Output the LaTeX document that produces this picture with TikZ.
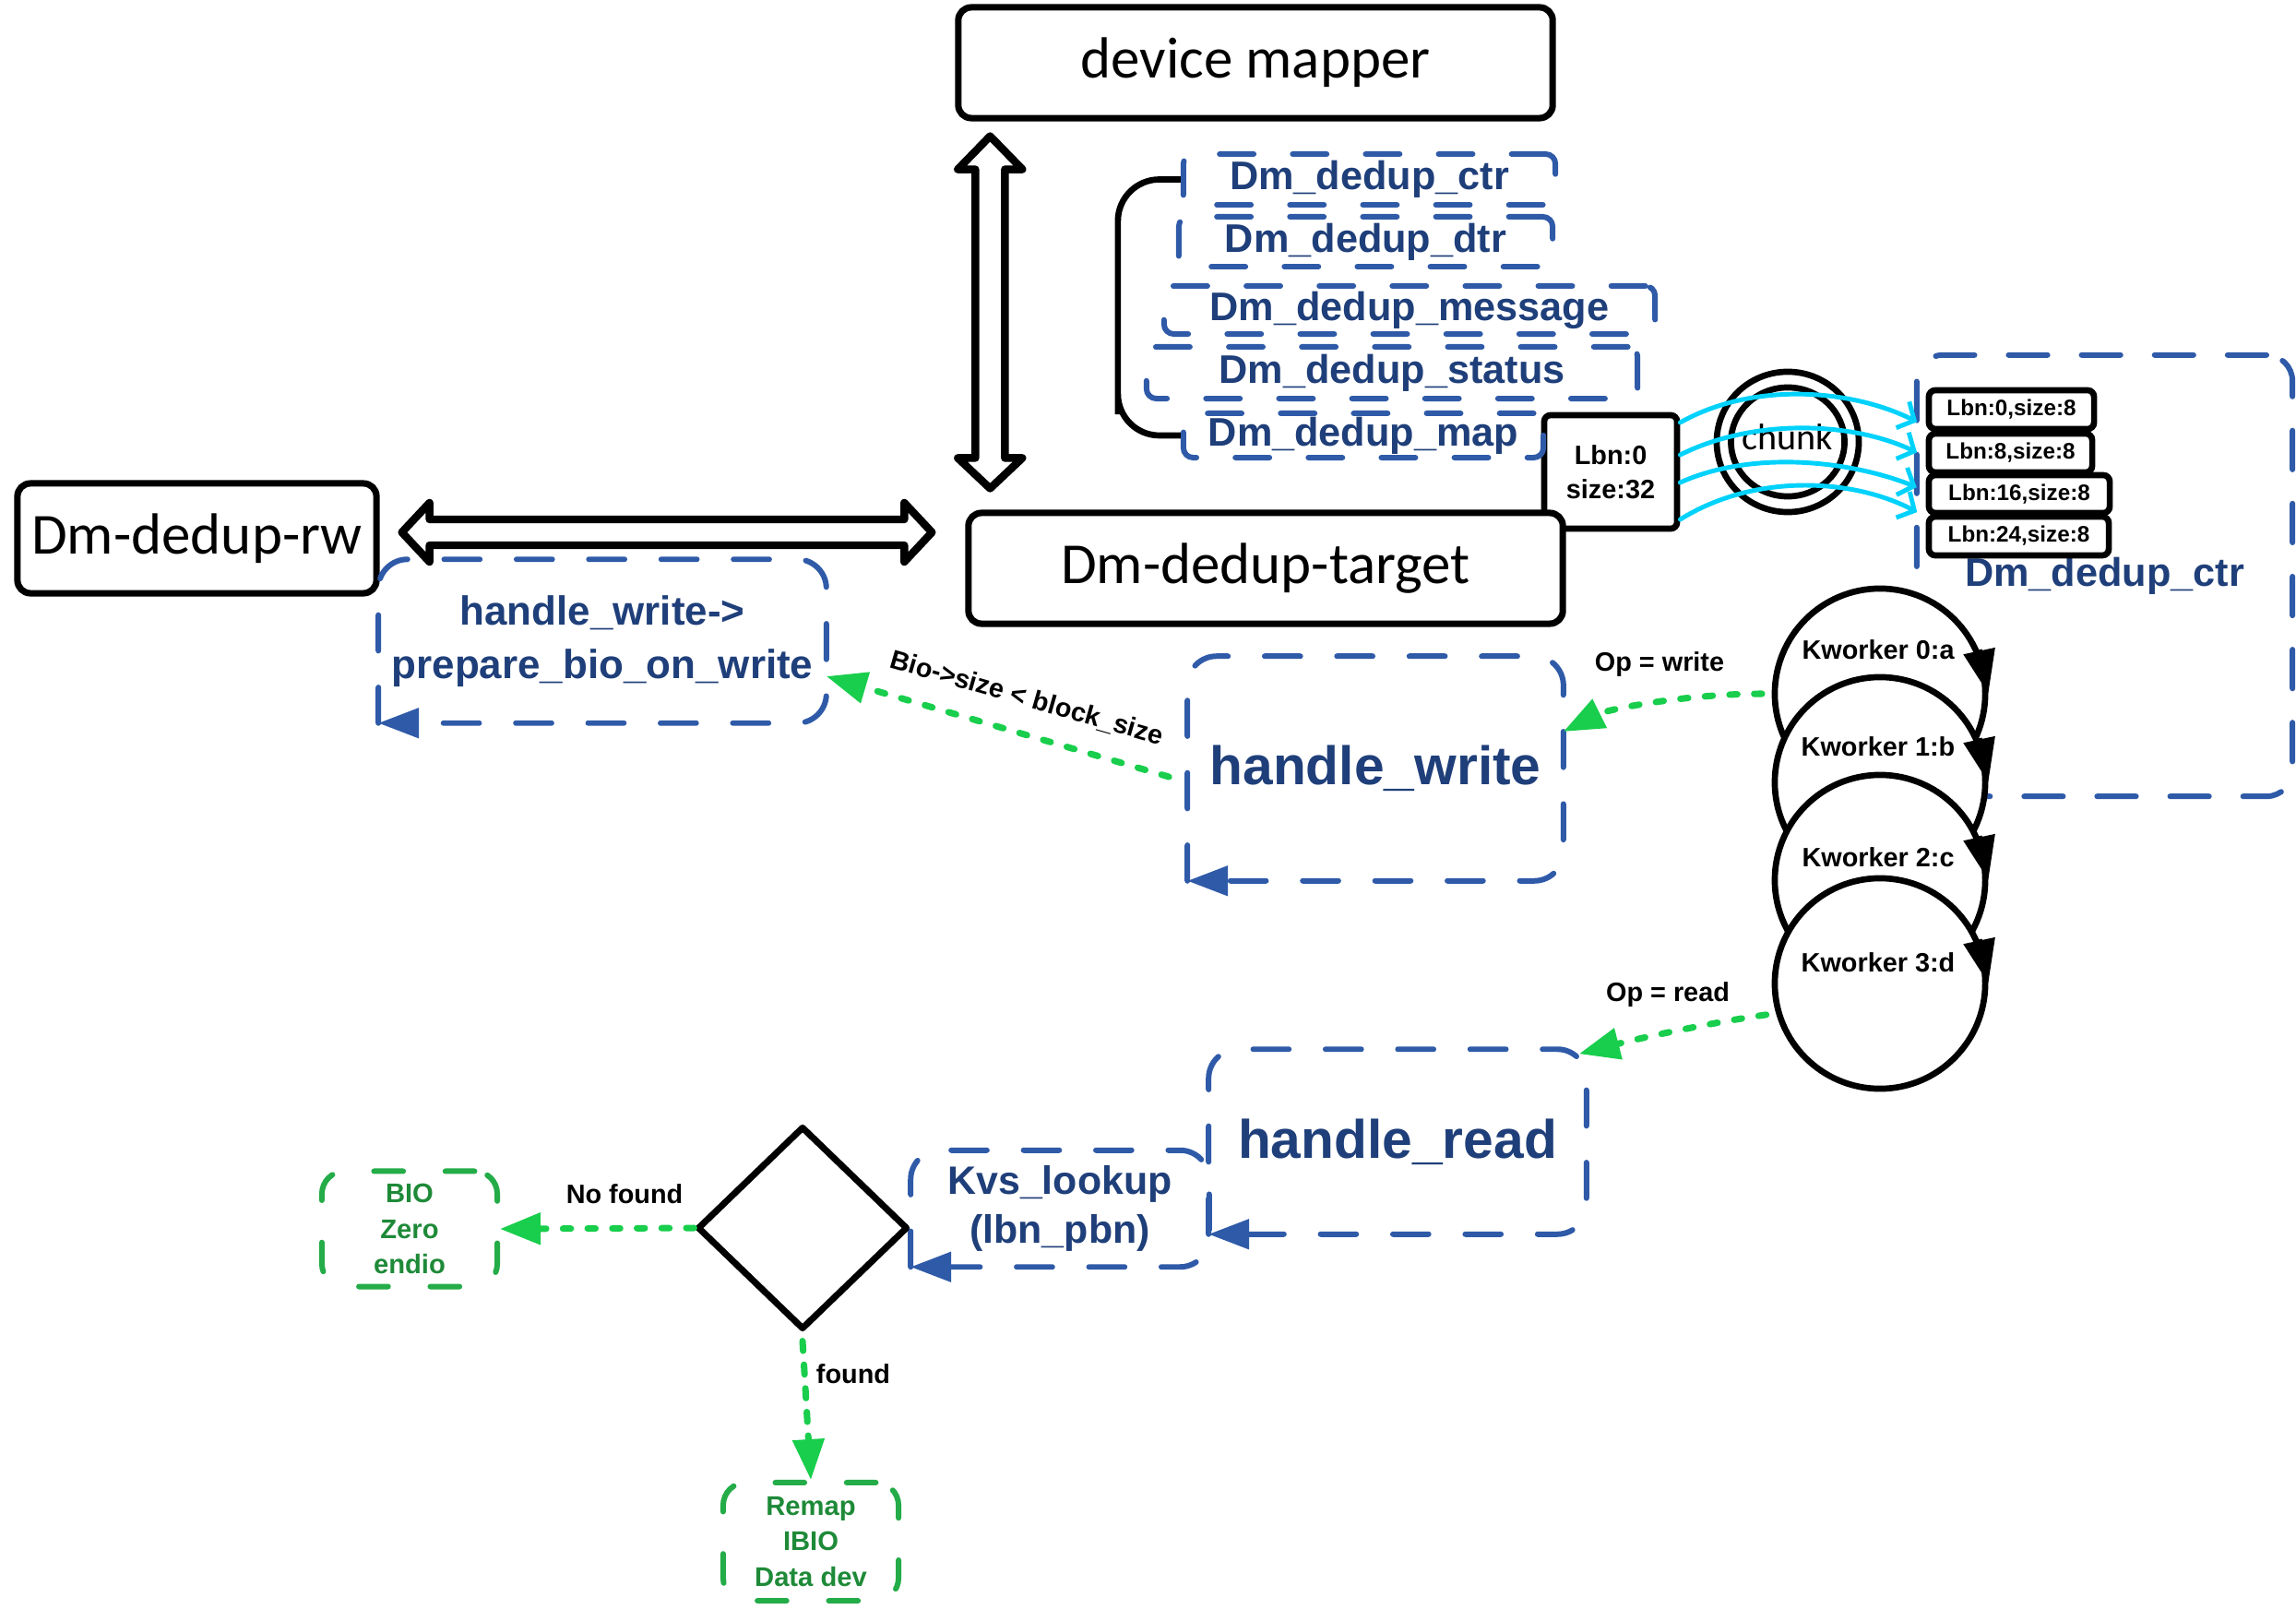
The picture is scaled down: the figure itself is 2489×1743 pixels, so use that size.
\documentclass[tikz,border=0pt]{standalone}
\usepackage{fontspec}
\setmainfont{Liberation Sans}
\newfontfamily\calfont{Carlito}
\usetikzlibrary{arrows.meta,shapes.geometric,calc}
\definecolor{blueline}{RGB}{47,90,168}
\definecolor{bluetext}{RGB}{31,63,122}
\definecolor{greenarrow}{RGB}{24,206,76}
\definecolor{greenbox}{RGB}{36,172,72}
\definecolor{greentext}{RGB}{30,138,56}
\definecolor{cyanline}{RGB}{0,210,252}
\tikzset{
  blackbox/.style={draw=black, line width=2pt, rounded corners=4pt, fill=white, inner sep=0pt, line join=round, font=\calfont\fontsize{17.9pt}{21pt}\selectfont},
  funcbox/.style={draw=blueline, line width=1.7pt, dash pattern=on 10.5pt off 12pt, line cap=round, rounded corners=3pt, inner sep=0pt, text=bluetext, font=\bfseries\fontsize{12.3pt}{14pt}\selectfont},
  flowtext/.style={inner sep=0pt, text=bluetext, align=center},
  flowline/.style={draw=blueline, color=blueline, line width=1.7pt, dash pattern=on 11pt off 11.3pt, line cap=round, rounded corners=9pt, -{Triangle[length=12.5pt,width=9pt]}},
  greenframe/.style={draw=greenbox, line width=1.7pt, dash pattern=on 9pt off 13pt, line cap=round, rounded corners=7pt, inner sep=0pt, align=center, text=greentext, font=\bfseries\fontsize{8.3pt}{10.9pt}\selectfont},
  greendot/.style={draw=greenarrow, color=greenarrow, line width=2pt, line cap=round, dash pattern=on 2.4pt off 5.2pt, -{Triangle[length=12.5pt,width=9.5pt]}},
  greendash/.style={greendot, dash pattern=on 3pt off 4.3pt},
  lbl/.style={inner sep=0pt, font=\bfseries\fontsize{8.2pt}{10pt}\selectfont},
  smallbox/.style={draw=black, fill=white, line width=1.9pt, rounded corners=2pt, inner sep=0pt, font=\bfseries\fontsize{6.9pt}{8pt}\selectfont},
  kcircle/.style={circle, draw=black, line width=1.9pt, fill=white, minimum size=2.28cm, inner sep=0pt},
  ktip/.style={line width=1.9pt, -{Triangle[length=13.5pt,width=9.5pt]}},
  cyanarrow/.style={draw=cyanline, line width=1.4pt, line cap=round, -{Straight Barb[length=4pt,width=9pt]}},
  dblarrow/.style={draw=black, line width=2.4pt, line join=round, fill=white},
}
\begin{document}
\begin{tikzpicture}[x=0.01cm,y=-0.01cm]
\useasboundingbox (0,0) rectangle (2489,1743);
\fill[white] (0,0) rectangle (2489,1743);

% group rectangle on the right
\node[funcbox, dash pattern=on 12pt off 10.5pt, rounded corners=8pt, minimum width=4.07cm, minimum height=4.78cm] (grp) at (2281.5,624) {Dm\_dedup\_ctr};

% black boxes
\node[blackbox, minimum width=6.44cm, minimum height=1.2cm] (dm) at (1361,68) {device mapper};
\node[smallbox, minimum width=1.44cm, minimum height=1.23cm, align=center, font=\bfseries\fontsize{8.2pt}{10.5pt}\selectfont] (lbn) at (1746,511.5) {Lbn:0\\size:32};
\node[blackbox, minimum width=6.44cm, minimum height=1.2cm] (tgt) at (1372,616) {Dm-dedup-target};
\node[blackbox, minimum width=3.89cm, minimum height=1.19cm] (rw) at (213.5,583.5) {Dm-dedup-rw};

% double arrows
\coordinate (hL) at ($(rw.east)+(24,-6.5)$);
\coordinate (hR) at ($(hL -| tgt.west)+(-36,0)$);
\draw[dblarrow] (hL) -- ++(30,-32) -- ++(0,18) -- ($(hR)+(-30,-14)$) -- ++(0,-18) -- (hR) -- ++(-30,32) -- ++(0,-18) -- ($(hL)+(30,14)$) -- ++(0,18) -- cycle;
\coordinate (vT) at ($(dm.south west)+(38,16)$);
\coordinate (vB) at ($(vT |- tgt.north)+(0,-23)$);
\draw[dblarrow] (vT) -- ++(35,36) -- ++(-19,0) -- ($(vB)+(16,-33)$) -- ++(19,0) -- (vB) -- ++(-35,-33) -- ++(19,0) -- ($(vT)+(-16,36)$) -- ++(-19,0) -- cycle;

% function list
\node[funcbox, minimum width=4.03cm, minimum height=0.55cm] (ctr) at (1484.5,194.5) {Dm\_dedup\_ctr};
\node[funcbox, minimum width=4.05cm, minimum height=0.54cm] (dtr) at (1480.5,262) {Dm\_dedup\_dtr};
\node[funcbox, minimum width=5.32cm, minimum height=0.52cm] (msg) at (1528,336) {Dm\_dedup\_message};
\node[funcbox, minimum width=5.32cm, minimum height=0.56cm] (sts) at (1509,404) {Dm\_dedup\_status};
\node[funcbox, minimum width=3.9cm, minimum height=0.48cm] (map) at (1478,472) {Dm\_dedup\_map};
\draw[line width=1.9pt, rounded corners=0.45cm] (ctr.west) -| ($(sts.west)+(-28,0)$) |- (map.west);

% chunk
\node[ellipse, draw, line width=1.9pt, minimum width=1.54cm, minimum height=1.52cm, inner sep=0pt] (chO) at (1938,479) {};
\node[ellipse, draw, line width=1.9pt, minimum width=1.23cm, minimum height=1.18cm, inner sep=0pt] (chI) at (1938,479) {};
\node[inner sep=0pt, font=\calfont\fontsize{11.4pt}{13pt}\selectfont] (chunk) at (1938,474) {chunk};

% small lbn boxes
\node[smallbox, minimum width=1.79cm, minimum height=0.42cm] (b1) at (2180.5,444) {Lbn:0,size:8};
\node[smallbox, minimum width=1.77cm, minimum height=0.42cm] (b2) at (2179.5,491) {Lbn:8,size:8};
\node[smallbox, minimum width=1.96cm, minimum height=0.41cm] (b3) at (2189,535.5) {Lbn:16,size:8};
\node[smallbox, minimum width=1.95cm, minimum height=0.42cm] (b4) at (2188.5,581) {Lbn:24,size:8};

\draw[cyanarrow, shorten >=3pt] ([yshift=0.535cm]lbn.east) .. controls +(80,-45) and +(-80,-40) .. ([yshift=-0.18cm]b1.west);
\draw[cyanarrow, shorten >=3pt] ([yshift=0.185cm]lbn.east) .. controls +(80,-40) and +(-80,-38) .. ([yshift=-0.04cm]b2.west);
\draw[cyanarrow, shorten >=3pt] ([yshift=-0.115cm]lbn.east) .. controls +(80,-36) and +(-80,-32) .. ([yshift=0.035cm]b3.west);
\draw[cyanarrow, shorten >=3pt] ([yshift=-0.515cm]lbn.east) .. controls +(80,-50) and +(-80,-42) .. ([yshift=0.21cm]b4.west);

% kworkers
\node[kcircle] (k0) at (2038,752) {};
\node[lbl] (kt0) at (2036,704) {Kworker 0:a};
\draw[ktip] (k0.24) -- (k0.east);
\node[kcircle] (k1) at (2038,848) {};
\node[lbl] (kt1) at (2036,809) {Kworker 1:b};
\draw[ktip] (k1.24) -- (k1.east);
\node[kcircle] (k2) at (2038,954) {};
\node[lbl] (kt2) at (2036,929) {Kworker 2:c};
\draw[ktip] (k2.24) -- (k2.east);
\node[kcircle] (k3) at (2038,1066) {};
\node[lbl] (kt3) at (2036,1043) {Kworker 3:d};
\draw[ktip] (k3.24) -- (k3.east);

% flow boxes
\node[flowtext, font=\bfseries\fontsize{12.5pt}{16.5pt}\selectfont, minimum width=4.84cm, minimum height=1.76cm] (pb) at (653,695) {handle\_write->\\prepare\_bio\_on\_write};
\draw[flowline] (pb.south west) -- (pb.north west) -- (pb.north east) -- (pb.south east) -- (pb.south west);
\node[flowtext, font=\bfseries\fontsize{16.7pt}{19pt}\selectfont, minimum width=4.06cm, minimum height=2.42cm] (hw) at (1491,833) {handle\_write};
\draw[flowline] (hw.south west) -- (hw.north west) -- (hw.north east) -- (hw.south east) -- (hw.south west);
\node[flowtext, font=\bfseries\fontsize{16.7pt}{19pt}\selectfont, minimum width=4.08cm, minimum height=1.99cm] (hr) at (1515,1237.5) {handle\_read};
\draw[flowline] (hr.south west) -- (hr.north west) -- (hr.north east) -- (hr.south east) -- (hr.south west);
\node[flowtext, font=\bfseries\fontsize{12.2pt}{15.2pt}\selectfont, minimum width=3.22cm, minimum height=1.25cm] (kvs) at (1149,1310) {Kvs\_lookup\\(lbn\_pbn)};
\draw[flowline] (kvs.south west) -- (kvs.north west) -- (kvs.north east) -- (kvs.south east) -- (kvs.south west);

% decision and results
\node[diamond, draw, line width=2pt, minimum width=2.28cm, minimum height=2.2cm, inner sep=0pt, line join=round] (dia) at (870,1331) {};
\node[greenframe, minimum width=1.9cm, minimum height=1.25cm] (bio) at (444,1332) {BIO\\Zero\\endio};
\node[greenframe, minimum width=1.9cm, minimum height=1.28cm] (remap) at (879,1671) {Remap\\IBIO\\Data dev};

% green connectors
\draw[greendot] (dia.west) -- (bio.east);
\draw[greendash] ([yshift=-0.09cm]dia.south) -- (remap.north);
\draw[greendot] ([xshift=-0.2cm,yshift=-0.09cm]hw.west) -- ([yshift=-0.38cm]pb.east);
\draw[greendot, shorten <=3pt] (k0.west) .. controls +(-90,0) and +(50,-25) .. ([yshift=0.4cm]hw.east);
\draw[greendot, shorten <=3pt] (k3.196) .. controls +(-70,10) and +(70,-18) .. ([xshift=-0.08cm,yshift=-0.05cm]hr.north east);

% labels
\node[lbl] (lw) at (1799,720) {Op = write};
\node[lbl] (lr) at (1808,1078) {Op = read};
\node[lbl, rotate=-16] (lbio) at (1113,757) {Bio->size < block\_size};
\node[lbl] (lnf) at (677,1294) {No found};
\node[lbl] (lf) at (925,1489) {found};
\end{tikzpicture}
\end{document}
